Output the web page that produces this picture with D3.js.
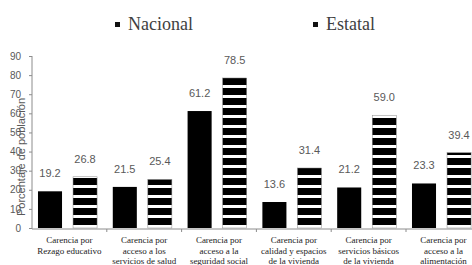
<!DOCTYPE html>
<html><head><meta charset="utf-8">
<script src="https://cdn.jsdelivr.net/npm/d3@7"></script>
<style>
html,body{margin:0;padding:0;background:#fff;overflow:hidden}
</style>
</head><body>
<svg id="c" width="472" height="265"></svg>
<script>
const categories = [
  ["Carencia por","Rezago educativo"],
  ["Carencia por","acceso a los","servicios de salud"],
  ["Carencia por","acceso a la","seguridad social"],
  ["Carencia por","calidad y espacios","de la vivienda"],
  ["Carencia por","servicios básicos","de la vivienda"],
  ["Carencia por","acceso a la","alimentación"]
];
const seriesNames = ["Nacional","Estatal"];
const nacional = [19.2, 21.5, 61.2, 13.6, 21.2, 23.3];
const estatal = [26.8, 25.4, 78.5, 31.4, 59.0, 39.4];
const yTicks = [0,10,20,30,40,50,60,70,80,90];
const yTitle = "Porcentaje de población";

const SERIF = "'Liberation Serif', 'Times New Roman', 'DejaVu Serif', serif";
const SANS = "'Liberation Sans', Arial, sans-serif";

const svg = d3.select("#c");
const defs = svg.append("defs");
const pat = defs.append("pattern").attr("id","stripes").attr("patternUnits","userSpaceOnUse")
  .attr("width",10).attr("height",10).attr("y",8);
pat.append("rect").attr("width",10).attr("height",10).attr("fill","#fff");
pat.append("rect").attr("width",10).attr("height",7).attr("fill","#000");

const idx = categories.map((d,i)=>i);
const x0 = d3.scaleBand().domain(idx).range([32, 32+6*74.8]).paddingInner(0).paddingOuter(0);
const bw = x0.bandwidth();
const x1 = d3.scaleBand().domain(seriesNames).range([bw*0.08, bw*0.87]).paddingInner(0.314).paddingOuter(0);
const y = d3.scaleLinear().domain([0,90]).range([228,56]);

const yAxis = d3.axisLeft(y).tickValues(yTicks).tickSize(3).tickFormat(d3.format("d"));
const gy = svg.append("g").attr("transform","translate(32,0)").call(yAxis);
gy.attr("font-family",SANS).attr("font-size",10);
gy.select(".domain").attr("stroke","#8c8c8c").attr("d","M0,56V229");
gy.selectAll(".tick line").attr("stroke","#8c8c8c");
gy.selectAll(".tick text").attr("fill","#595959").attr("x",-11);

svg.append("text").attr("transform","translate(25,157) rotate(-90)").attr("text-anchor","middle")
  .attr("fill","#595959").style("font-family",SANS).style("font-size","11px")
  .text(yTitle);

const data = idx.map(i=>({i, vals:[{s:"Nacional",v:nacional[i]},{s:"Estatal",v:estatal[i]}]}));
const g = svg.append("g");
const groups = g.selectAll("g.cat").data(data).join("g").attr("class","cat")
  .attr("transform",d=>`translate(${x0(d.i)},0)`);
groups.selectAll("rect").data(d=>d.vals).join("rect")
  .attr("x",d=>x1(d.s)).attr("width",x1.bandwidth())
  .attr("y",d=>y(d.v)).attr("height",d=>y(0)-y(d.v))
  .attr("fill",d=>d.s==="Nacional"?"#000":"url(#stripes)")
  .attr("stroke",d=>d.s==="Nacional"?"none":"#888").attr("stroke-width",0.5);
groups.selectAll("text.val").data(d=>d.vals).join("text").attr("class","val")
  .attr("x",d=>x1(d.s)+x1.bandwidth()/2).attr("y",d=>y(d.v)-14)
  .attr("text-anchor","middle").attr("fill","#595959")
  .style("font-family",SANS).style("font-size","11px")
  .text(d=>d.v.toFixed(1));

const xAxis = d3.axisBottom(x0).tickSize(0).tickFormat("");
const gx = svg.append("g").attr("transform","translate(0,229)").call(xAxis);
gx.select(".domain").attr("stroke","#8c8c8c").attr("d","M32,0H472");
idx.forEach(i=>{
  svg.append("line").attr("x1",x0(i)+bw).attr("x2",x0(i)+bw).attr("y1",229).attr("y2",232).attr("stroke","#8c8c8c");
});
const xl = svg.append("g");
data.forEach(d=>{
  const t = xl.append("text").attr("text-anchor","middle")
    .style("font-family",SERIF).style("font-size","9px").attr("fill","#222");
  categories[d.i].forEach((line,k)=>{
    t.append("tspan").attr("x",x0(d.i)+bw/2).attr("y",243+k*10.5).text(line);
  });
});

const legend = [{name:seriesNames[0], x:115},{name:seriesNames[1], x:313}];
legend.forEach(l=>{
  svg.append("rect").attr("x",l.x).attr("y",22).attr("width",5).attr("height",5).attr("fill","#111");
  svg.append("text").attr("x",l.x+13).attr("y",30).attr("fill","#404040")
    .style("font-family",SERIF).style("font-size","18px").text(l.name);
});
</script>
</body></html>
